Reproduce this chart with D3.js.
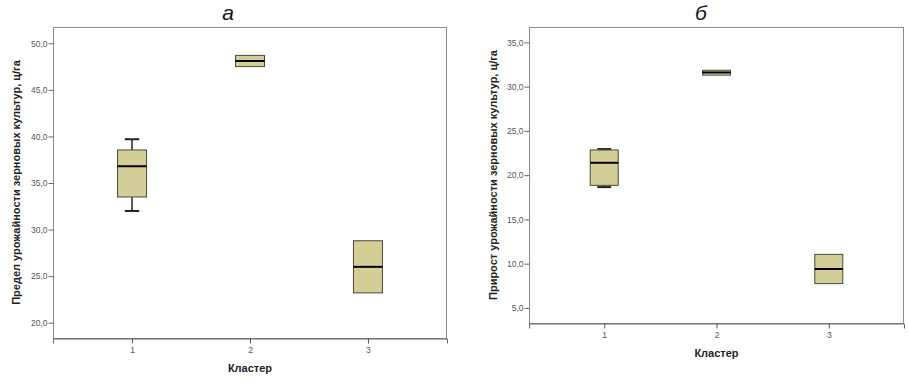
<!DOCTYPE html>
<html>
<head>
<meta charset="utf-8">
<script src="https://cdn.jsdelivr.net/npm/d3@7"></script>
<style>
  body { margin: 0; background: #fff; }
  svg { display: block; font-family: "Liberation Sans", Arial, sans-serif; }
  .tick-label { font-size: 8.5px; fill: #555; }
  .axis-title { font-size: 11px; font-weight: bold; fill: #222; }
  .panel-title { font-size: 21px; font-style: italic; fill: #111; }
</style>
</head>
<body>
<script>
// clusters on the x axis
var clusters = ["1", "2", "3"];

// five-number summaries per cluster: [min, q1, median, q3, max]
var yieldLimit = [
  [32.0, 33.5, 36.8, 38.55, 39.7],
  [47.5, 47.5, 48.1, 48.7, 48.7],
  [23.2, 23.2, 26.0, 28.8, 28.8]
];
var yieldGain = [
  [18.65, 18.85, 21.4, 22.85, 22.95],
  [31.3, 31.3, 31.6, 31.85, 31.85],
  [7.75, 7.75, 9.4, 11.05, 11.05]
];

var yieldLimitTicks = [20, 25, 30, 35, 40, 45, 50];
var yieldGainTicks = [5, 10, 15, 20, 25, 30, 35];

var width = 909,
  height = 385;

var fmt = d3.formatLocale({ decimal: ",", thousands: " ", grouping: [3], currency: ["", ""] }).format(".1f");

var svg = d3.select("body").append("svg")
  .attr("width", width)
  .attr("height", height);

var panels = [
  {
    title: "а", titleX: 228,
    yTitle: "Предел урожайности зерновых культур, ц/га", yTitleX: 20,
    data: yieldLimit, ticks: yieldLimitTicks, domain: [18.36, 51.75],
    left: 53, top: 27, right: 447, bottom: 338, boxWidth: 29
  },
  {
    title: "б", titleX: 701,
    yTitle: "Прирост урожайности зерновых культур, ц/га", yTitleX: 497,
    data: yieldGain, ticks: yieldGainTicks, domain: [3.3, 36.74],
    left: 529, top: 27, right: 904, bottom: 323, boxWidth: 28
  }
];

panels.forEach(drawPanel);

function drawPanel(p) {
  var g = svg.append("g");

  var x = d3.scalePoint()
    .domain(clusters)
    .range([p.left, p.right])
    .padding(0.67);

  var y = d3.scaleLinear()
    .domain(p.domain)
    .range([p.bottom, p.top]);

  // frame
  g.append("rect")
    .attr("x", p.left + 0.5)
    .attr("y", p.top + 0.5)
    .attr("width", p.right - p.left - 1)
    .attr("height", p.bottom - p.top)
    .style("fill", "none")
    .style("stroke", "#8a8a8a")
    .style("stroke-width", 1);

  // y axis
  var yAxis = g.append("g")
    .attr("transform", "translate(" + (p.left + 0.5) + ",0)")
    .call(d3.axisLeft(y).tickValues(p.ticks).tickFormat(fmt).tickSize(5).tickPadding(1));
  yAxis.select(".domain").remove();
  yAxis.selectAll(".tick line").style("stroke", "#666");
  yAxis.selectAll(".tick text").attr("class", "tick-label").attr("font-size", null).attr("font-family", null);

  // x axis
  var xAxis = g.append("g")
    .attr("transform", "translate(0," + (p.bottom + 0.5) + ")")
    .call(d3.axisBottom(x).tickSize(5).tickPadding(3));
  xAxis.select(".domain").style("stroke", "#666");
  xAxis.selectAll(".tick line").style("stroke", "#555");
  xAxis.selectAll(".tick text").attr("class", "tick-label").attr("font-size", null).attr("font-family", null);

  // boxes
  var box = g.selectAll(".box")
    .data(p.data)
    .enter().append("g")
    .attr("class", "box")
    .attr("transform", function(d, i) { return "translate(" + x(clusters[i]) + ",0)"; });

  var bw = p.boxWidth;

  box.each(function(d) {
    var b = d3.select(this);
    if (d[4] > d[3]) {
      b.append("line").attr("x1", 0).attr("x2", 0)
        .attr("y1", y(d[4])).attr("y2", y(d[3]))
        .style("stroke", "#222").style("stroke-width", 1.5);
      b.append("line").attr("x1", -bw / 4).attr("x2", bw / 4)
        .attr("y1", y(d[4])).attr("y2", y(d[4]))
        .style("stroke", "#222").style("stroke-width", 2);
    }
    if (d[0] < d[1]) {
      b.append("line").attr("x1", 0).attr("x2", 0)
        .attr("y1", y(d[1])).attr("y2", y(d[0]))
        .style("stroke", "#222").style("stroke-width", 1.5);
      b.append("line").attr("x1", -bw / 4).attr("x2", bw / 4)
        .attr("y1", y(d[0])).attr("y2", y(d[0]))
        .style("stroke", "#222").style("stroke-width", 2);
    }
    b.append("rect")
      .attr("x", -bw / 2)
      .attr("y", y(d[3]))
      .attr("width", bw)
      .attr("height", y(d[1]) - y(d[3]))
      .style("fill", "#d3cd97")
      .style("stroke", "#4a4a3a")
      .style("stroke-width", 1);
    b.append("line")
      .attr("x1", -bw / 2).attr("x2", bw / 2)
      .attr("y1", y(d[2])).attr("y2", y(d[2]))
      .style("stroke", "#000")
      .style("stroke-width", 2);
  });

  // titles
  g.append("text")
    .attr("class", "panel-title")
    .attr("x", p.titleX)
    .attr("y", 20)
    .attr("text-anchor", "middle")
    .text(p.title);

  g.append("text")
    .attr("class", "axis-title")
    .attr("transform", "translate(" + p.yTitleX + "," + ((p.top + p.bottom) / 2) + ") rotate(-90)")
    .attr("text-anchor", "middle")
    .text(p.yTitle);

  g.append("text")
    .attr("class", "axis-title")
    .attr("x", x("2"))
    .attr("y", p.bottom + 34)
    .attr("text-anchor", "middle")
    .text("Кластер");
}
</script>
</body>
</html>
